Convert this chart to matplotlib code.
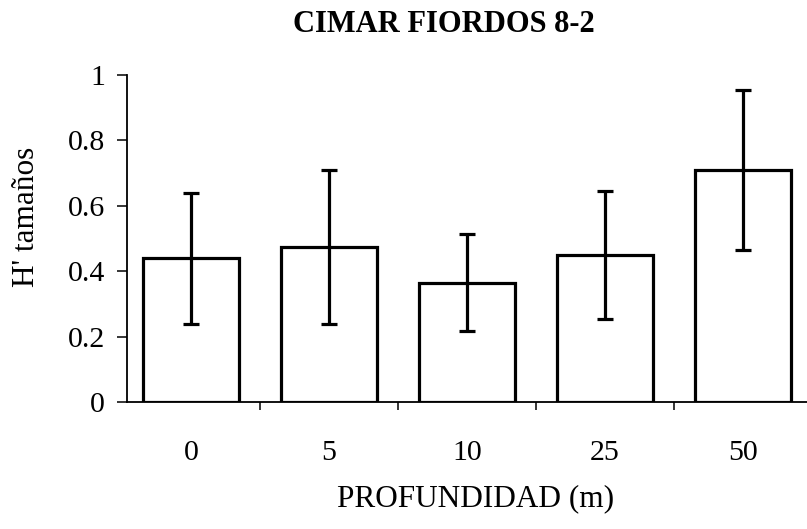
import matplotlib
matplotlib.use("Agg")
import matplotlib.pyplot as plt
import numpy as np

# H' por clase de tamaño, promedio y desviación por profundidad
profundidad = ["0", "5", "10", "25", "50"]
h_tamanos = [0.44, 0.475, 0.365, 0.45, 0.71]
desv = [0.20, 0.235, 0.148, 0.196, 0.245]
y_ticks = [0, 0.2, 0.4, 0.6, 0.8, 1]
y_tick_labels = ["0", "0.2", "0.4", "0.6", "0.8", "1"]

plt.rcParams['font.family'] = ['Liberation Serif', 'DejaVu Serif']

W, H = 807, 529
fig = plt.figure(figsize=(W / 100, H / 100), dpi=100)

# axes placed in pixel terms, x axis runs off the right edge
left, bottom, top = 127, 402, 75
right = 127 + 138 * 5.07
ax = fig.add_axes([left / W, 1 - bottom / H, (right - left) / W, (bottom - top) / H])

x = np.arange(len(profundidad))
ax.bar(x, h_tamanos, width=0.70, color='white', edgecolor='black', linewidth=2.3, zorder=2)
ax.errorbar(x, h_tamanos, yerr=desv, fmt='none', ecolor='black', elinewidth=2.3,
            capsize=6, capthick=2.3, zorder=3)

ax.set_xlim(-0.464, 5.07 - 0.464)
ax.set_ylim(0, 1)

for s in ['top', 'right']:
    ax.spines[s].set_visible(False)
ax.spines['left'].set_linewidth(1.3)
ax.spines['bottom'].set_linewidth(1.3)

ax.set_yticks(y_ticks)
ax.set_yticklabels(y_tick_labels, fontsize=21.5)
ax.tick_params(axis='y', direction='out', length=7, width=1.1, pad=9)

ax.set_xticks(x)
ax.set_xticklabels(profundidad, fontsize=21.5)
ax.tick_params(axis='x', which='major', length=0, pad=27)
ax.set_xticks(np.arange(len(profundidad) - 1) + 0.5, minor=True)
ax.tick_params(axis='x', which='minor', direction='out', length=6, width=1.1)

fig.text(444 / W, 1 - 25 / H, "CIMAR FIORDOS 8-2", fontsize=22, fontweight='bold',
         ha='center', va='center')
fig.text(476 / W, 1 - 499 / H, "PROFUNDIDAD (m)", fontsize=22.5, ha='center', va='center')
fig.text(27 / W, 1 - 217 / H, "H' tamaños", fontsize=22.5, rotation=90,
         ha='center', va='center')

fig.savefig("out.png", dpi=100, facecolor='white')
